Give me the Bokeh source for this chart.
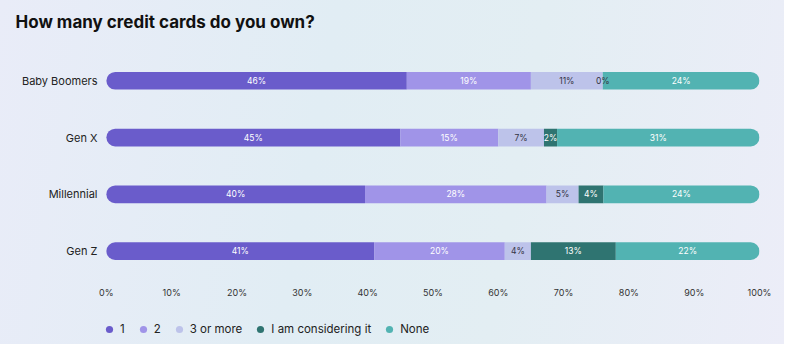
from bokeh.plotting import figure
from bokeh.layouts import column
from bokeh.models import (ColumnDataSource, Range1d, FixedTicker,
                          Legend, LegendItem)
from bokeh.core.properties import value
from bokeh.embed import file_html
from bokeh.resources import INLINE

# ---- data ----
generations = ["Baby Boomers", "Gen X", "Millennial", "Gen Z"]
series_names = ["1", "2", "3 or more", "I am considering it", "None"]
one = [46, 45, 39.6, 41]
two = [19, 15, 27.8, 20]
three_or_more = [11, 7, 4.9, 4]
considering = [0, 2, 3.8, 13]
none = [24, 31, 23.9, 22]
series_values = [one, two, three_or_more, considering, none]
x_ticks = [0, 10, 20, 30, 40, 50, 60, 70, 80, 90, 100]
x_tick_labels = ["0%", "10%", "20%", "30%", "40%", "50%", "60%", "70%", "80%", "90%", "100%"]

# ---- style ----
colors = ["#6A5CCB", "#A094E8", "#BDC3EA", "#2F7471", "#52B3B2"]
label_colors = ["#FFFFFF", "#FFFFFF", "#333344", "#FFFFFF", "#FFFFFF"]
DARK = "#333344"
PAGE_BG = "linear-gradient(100deg, #E9ECF8 0%, #E1EDF4 40%, #E3EEF3 65%, #ECEDF8 100%)"
FONT = "Inter"

# numeric row positions, first generation on top
rows = list(range(len(generations)))[::-1]

p = figure(width=784, height=304, output_backend="svg", toolbar_location=None,
           y_range=Range1d(-0.5, 3.71),
           x_range=Range1d(-0.9, 100),
           min_border_left=100, min_border_right=25,
           min_border_top=40, min_border_bottom=25,
           title="How many credit cards do you own?")
p.background_fill_alpha = 0
p.border_fill_alpha = 0
p.outline_line_color = None
p.xgrid.visible = False
p.ygrid.visible = False

p.title.text_font = FONT
p.title.text_font_size = "17px"
p.title.text_font_style = "bold"
p.title.text_color = "#111111"
p.title.align = "left"
p.title.offset = -85
p.title.standoff = 17

# stacked segments: bars first, then labels on top
lefts = [0.0] * len(generations)
label_sources = []
for i, (name, vals) in enumerate(zip(series_names, series_values)):
    rights = [l + v for l, v in zip(lefts, vals)]
    src = ColumnDataSource(dict(
        row=rows, left=lefts, right=rights,
        mid=[(l + r) / 2 for l, r in zip(lefts, rights)],
        label=[f"{round(v)}%" for v in vals],
        tcolor=[label_colors[i] if v > 0 else DARK for v in vals],
    ))
    if i == 0:
        radius = (9, 0, 0, 9)
    elif i == len(series_names) - 1:
        radius = (0, 9, 9, 0)
    else:
        radius = 0
    p.hbar(y="row", left="left", right="right", height=0.31, source=src,
           fill_color=colors[i], line_color=None, border_radius=radius)
    label_sources.append(src)
    lefts = rights

for src in label_sources:
    p.text(x="mid", y="row", text="label", source=src,
           text_color="tcolor", text_align="center",
           text_baseline="middle", text_font=value(FONT),
           text_font_size="8.5px")

# axes
p.xaxis.ticker = FixedTicker(ticks=x_ticks)
p.xaxis.major_label_overrides = {t: l for t, l in zip(x_ticks, x_tick_labels)}
p.xaxis.axis_line_color = None
p.xaxis.major_tick_line_color = None
p.xaxis.minor_tick_line_color = None
p.xaxis.major_tick_out = 0
p.xaxis.major_label_standoff = 7
p.xaxis.major_label_text_font = FONT
p.xaxis.major_label_text_font_size = "9px"
p.xaxis.major_label_text_color = "#333333"

p.yaxis.ticker = FixedTicker(ticks=rows)
p.yaxis.major_label_overrides = {r: g for r, g in zip(rows, generations)}
p.yaxis.axis_line_color = None
p.yaxis.major_tick_line_color = None
p.yaxis.minor_tick_line_color = None
p.yaxis.major_tick_out = 0
p.yaxis.major_label_standoff = 3
p.yaxis.major_label_text_font = FONT
p.yaxis.major_label_text_font_size = "11px"
p.yaxis.major_label_text_color = "#222222"

# ---- legend strip (separate figure below the chart) ----
leg = figure(width=784, height=40, output_backend="svg", toolbar_location=None,
             x_axis_location=None, y_axis_location=None,
             x_range=Range1d(0, 1), y_range=Range1d(0, 1),
             min_border_left=0, min_border_right=0,
             min_border_top=0, min_border_bottom=0)
leg.background_fill_alpha = 0
leg.border_fill_alpha = 0
leg.outline_line_color = None
leg.xgrid.visible = False
leg.ygrid.visible = False

items = []
for name, c in zip(series_names, colors):
    # legend-only renderer: its single point is NaN, so nothing is drawn in the strip
    r = leg.scatter(x=[float("nan")], y=[float("nan")], marker="circle", size=7,
                    fill_color=c, line_color=None)
    items.append(LegendItem(label=name, renderers=[r]))
legend = Legend(items=items, orientation="horizontal", location=(0, 6),
                margin=0, padding=0, spacing=9, glyph_width=18, glyph_height=18,
                label_standoff=2, label_width=0, label_height=18,
                label_text_font=FONT, label_text_font_size="11.5px",
                label_text_color="#222222",
                background_fill_alpha=0, border_line_color=None)
leg.add_layout(legend)

layout = column(p, leg, spacing=0, styles={"background": PAGE_BG})
open("out.html", "w").write(file_html(layout, INLINE))
